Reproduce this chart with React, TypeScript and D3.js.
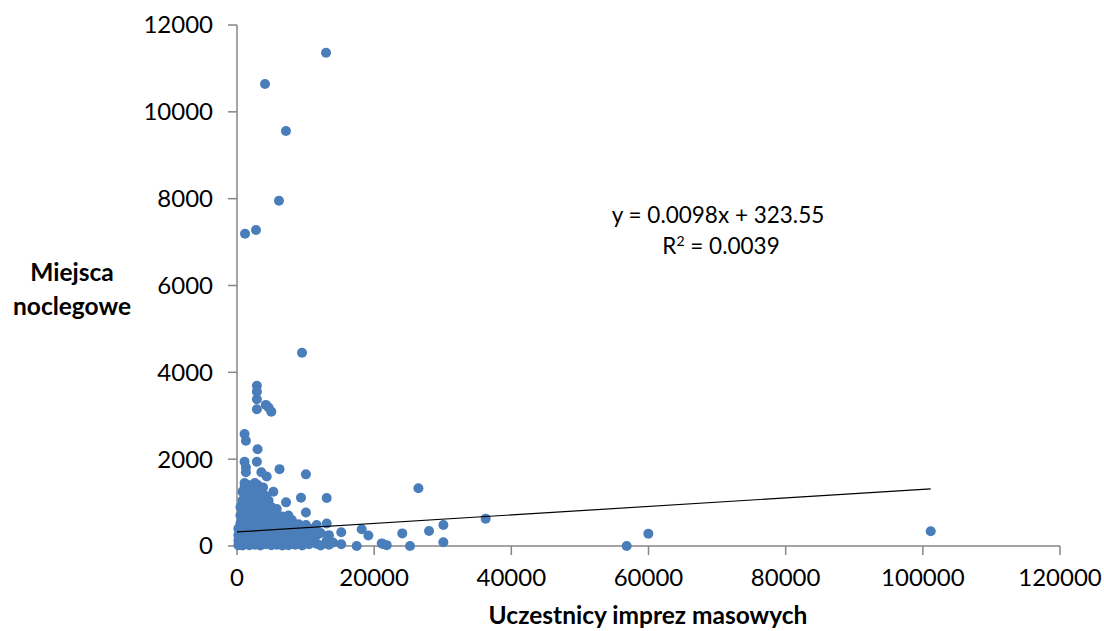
import React from "react";
import * as d3 from "d3";

const xTicks = [0, 20000, 40000, 60000, 80000, 100000, 120000];
const yTicks = [0, 2000, 4000, 6000, 8000, 10000, 12000];
const xTitle = "Uczestnicy imprez masowych";
const yTitle = ["Miejsca", "noclegowe"];
const equation = "y = 0.0098x + 323.55";
const slope = 0.0098;
const intercept = 323.55;
const r2Text = " = 0.0039";

// dense cluster columns: [x, [y values]]
const cluster: [number, number[]][] = [
  [200, [20, 120, 250, 400]],
  [500, [50, 180, 320, 520, 700, 900]],
  [800, [10, 100, 260, 450, 620, 850, 1050, 1250]],
  [1100, [40, 200, 380, 560, 760, 980, 1150, 1350, 1450, 1940, 2580]],
  [1300, [1810, 1700, 2425]],
  [1400, [80, 300, 500, 680, 880, 1100, 1300, 1405]],
  [1800, [20, 150, 420, 600, 820, 1000, 1200, 1400]],
  [2200, [60, 250, 460, 700, 950, 1150, 1350]],
  [2600, [30, 180, 380, 580, 800, 1050, 1250, 1450]],
  [2900, [3690, 3555, 3380, 3150, 1940]],
  [3000, [100, 300, 520, 740, 900, 1100, 1300, 1405, 2230]],
  [3400, [10, 220, 450, 650, 880, 1200, 1250]],
  [3550, [1700]],
  [3800, [80, 300, 550, 780, 1000, 1350]],
  [4200, [40, 200, 420, 650, 900, 1150, 3250]],
  [4330, [1600]],
  [4600, [120, 350, 600, 800, 1050, 3190]],
  [5000, [20, 250, 480, 700, 900, 3095]],
  [5300, [1250]],
  [5400, [90, 320, 560, 820]],
  [5800, [30, 200, 420, 640, 850]],
  [6200, [100, 350, 560, 1770]],
  [6600, [10, 250, 480, 680]],
  [7000, [60, 180, 400, 620]],
  [7150, [1005]],
  [7500, [20, 280, 500, 700]],
  [8000, [120, 350, 600]],
  [8500, [30, 200, 450]],
  [9000, [80, 300, 500]],
  [9330, [1110]],
  [9500, [10, 220, 420]],
  [10050, [100, 300, 485, 770, 1650]],
  [10500, [40, 200]],
  [11000, [150, 400]],
  [11620, [50, 250, 485]],
  [12200, [10, 300]],
  [13080, [120, 520, 1105]],
  [13400, [30, 250]],
  [14000, [80]],
  [15200, [40, 315]],
];

const outliersX = [12980, 4080, 7140, 6120, 1170, 2770, 9480, 26450, 18180, 19150, 24100, 21100, 21830, 17450, 25230, 36260, 28000, 30090, 30090, 21250, 56820, 59980, 101150];
const outliersY = [11360, 10640, 9560, 7950, 7190, 7280, 4450, 1330, 385, 240, 290, 60, 20, 0, 0, 630, 345, 485, 85, 45, 0, 285, 340];

const W = 1104;
const H = 631;

export default function App() {
  const x = d3.scaleLinear().domain([0, 120000]).range([237, 1060]);
  const y = d3.scaleLinear().domain([0, 12000]).range([546, 25]);

  const points: { x: number; y: number }[] = [];
  cluster.forEach(([cx, ys]) => ys.forEach((v) => points.push({ x: cx, y: v })));
  outliersX.forEach((v, i) => points.push({ x: v, y: outliersY[i] }));

  const maxX = d3.max(points, (p) => p.x) as number;
  const line = d3.line<number>().x((d) => x(d)).y((d) => y(slope * d + intercept));

  const font = "Lato, 'Open Sans', sans-serif";
  const axisColor = "#868686";

  return (
    <svg width={W} height={H} style={{ position: "absolute", left: 0, top: 0, background: "#fff" }} fontFamily={font}>
      {/* axes */}
      <line x1={x(0)} x2={x(0)} y1={y(12000)} y2={y(0)} stroke={axisColor} strokeWidth={1.5} />
      <line x1={x(0)} x2={x(120000)} y1={y(0)} y2={y(0)} stroke={axisColor} strokeWidth={1.5} />
      {yTicks.map((t) => (
        <g key={"y" + t}>
          <line x1={x(0) - 9} x2={x(0)} y1={y(t)} y2={y(t)} stroke={axisColor} strokeWidth={1.5} />
          <text x={213} y={y(t)} dy="0.35em" textAnchor="end" fontSize={24} fill="#000">{t}</text>
        </g>
      ))}
      {xTicks.map((t) => (
        <g key={"x" + t}>
          <line x1={x(t)} x2={x(t)} y1={y(0)} y2={y(0) + 9} stroke={axisColor} strokeWidth={1.5} />
          <text x={x(t)} y={578} dy="0.35em" textAnchor="middle" fontSize={24} fill="#000">{t}</text>
        </g>
      ))}
      {/* points */}
      {points.map((p, i) => (
        <circle key={i} cx={x(p.x)} cy={y(p.y)} r={5} fill="#4a7ebb" />
      ))}
      {/* trendline */}
      <path d={line([0, maxX]) as string} stroke="#000" strokeWidth={1.2} fill="none" />
      {/* equation */}
      <text x={718} y={215} dy="0.35em" textAnchor="middle" fontSize={22.5}>{equation}</text>
      <text x={721} y={246} dy="0.35em" textAnchor="middle" fontSize={22.5}>
        R<tspan dy="-8" fontSize={14}>2</tspan><tspan dy="8">{r2Text}</tspan>
      </text>
      {/* titles */}
      <text x={72} y={272} dy="0.35em" textAnchor="middle" fontSize={24.5} fontWeight="bold">{yTitle[0]}</text>
      <text x={72} y={306} dy="0.35em" textAnchor="middle" fontSize={24.5} fontWeight="bold">{yTitle[1]}</text>
      <text x={648} y={624} textAnchor="middle" fontSize={24.5} fontWeight="bold">{xTitle}</text>
    </svg>
  );
}
